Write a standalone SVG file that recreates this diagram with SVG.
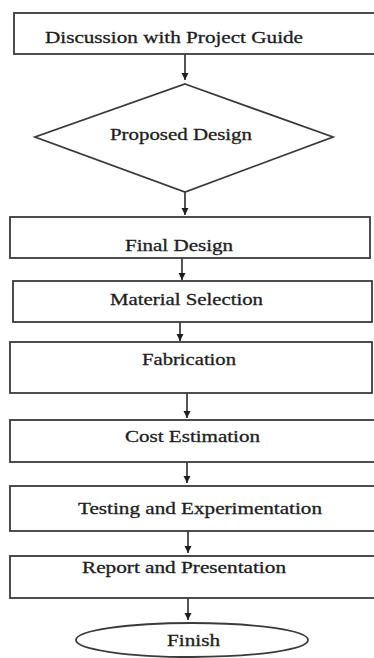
<svg xmlns="http://www.w3.org/2000/svg" width="374" height="658" viewBox="0 0 374 658">
<style>
.box{fill:#fff;stroke:#3a3a3a;stroke-width:1.8}
.lbl{font-family:'Liberation Serif','DejaVu Serif','Times New Roman',serif;font-size:16px;fill:#1e1e1e;stroke:#1e1e1e;stroke-width:0.3}
.con{stroke:#2a2a2a;stroke-width:1.6;fill:none}
</style>
<defs>
<marker id="a2" markerUnits="userSpaceOnUse" markerWidth="8" markerHeight="9" refX="8" refY="4" orient="auto" viewBox="0 0 9 8">
<path d="M0,0 L8,4 L0,8 Z" fill="#1e1e1e"/>
</marker>
</defs>
<rect width="374" height="658" fill="#fff"/>
<g id="connectors">
<line class="con" x1="185" y1="54" x2="185" y2="80" marker-end="url(#a2)"/>
<line class="con" x1="185" y1="192" x2="185" y2="215" marker-end="url(#a2)"/>
<line class="con" x1="182" y1="258" x2="182" y2="280" marker-end="url(#a2)"/>
<line class="con" x1="180" y1="322" x2="180" y2="341" marker-end="url(#a2)"/>
<line class="con" x1="187" y1="393" x2="187" y2="418" marker-end="url(#a2)"/>
<line class="con" x1="187" y1="462" x2="187" y2="483" marker-end="url(#a2)"/>
<line class="con" x1="188" y1="531" x2="188" y2="553" marker-end="url(#a2)"/>
<line class="con" x1="188" y1="598" x2="188" y2="620" marker-end="url(#a2)"/>
</g>
<g id="n1">
<rect class="box" x="14" y="13" width="370" height="41"/>
<text class="lbl" x="45" y="43" textLength="258" lengthAdjust="spacingAndGlyphs">Discussion with Project Guide</text>
</g>
<g id="n2">
<polygon class="box" points="185,84 333,137 185,192 35,137"/>
<text class="lbl" x="110" y="140" textLength="142" lengthAdjust="spacingAndGlyphs">Proposed Design</text>
</g>
<g id="n3">
<rect class="box" x="10" y="217" width="360" height="41"/>
<text class="lbl" x="125" y="251" textLength="108" lengthAdjust="spacingAndGlyphs">Final Design</text>
</g>
<g id="n4">
<rect class="box" x="13" y="281" width="359" height="41"/>
<text class="lbl" x="110" y="305" textLength="153" lengthAdjust="spacingAndGlyphs">Material Selection</text>
</g>
<g id="n5">
<rect class="box" x="10" y="342" width="362" height="51"/>
<text class="lbl" x="142" y="365" textLength="94" lengthAdjust="spacingAndGlyphs">Fabrication</text>
</g>
<g id="n6">
<rect class="box" x="10" y="420" width="374" height="42"/>
<text class="lbl" x="125" y="442" textLength="135" lengthAdjust="spacingAndGlyphs">Cost Estimation</text>
</g>
<g id="n7">
<rect class="box" x="10" y="486" width="374" height="45"/>
<text class="lbl" x="78" y="514" textLength="244" lengthAdjust="spacingAndGlyphs">Testing and Experimentation</text>
</g>
<g id="n8">
<rect class="box" x="10" y="556" width="374" height="42"/>
<text class="lbl" x="82" y="573" textLength="204" lengthAdjust="spacingAndGlyphs">Report and Presentation</text>
</g>
<g id="n9">
<ellipse class="box" cx="192" cy="640" rx="116" ry="17"/>
<text class="lbl" x="167" y="646" textLength="53" lengthAdjust="spacingAndGlyphs">Finish</text>
</g>
</svg>
